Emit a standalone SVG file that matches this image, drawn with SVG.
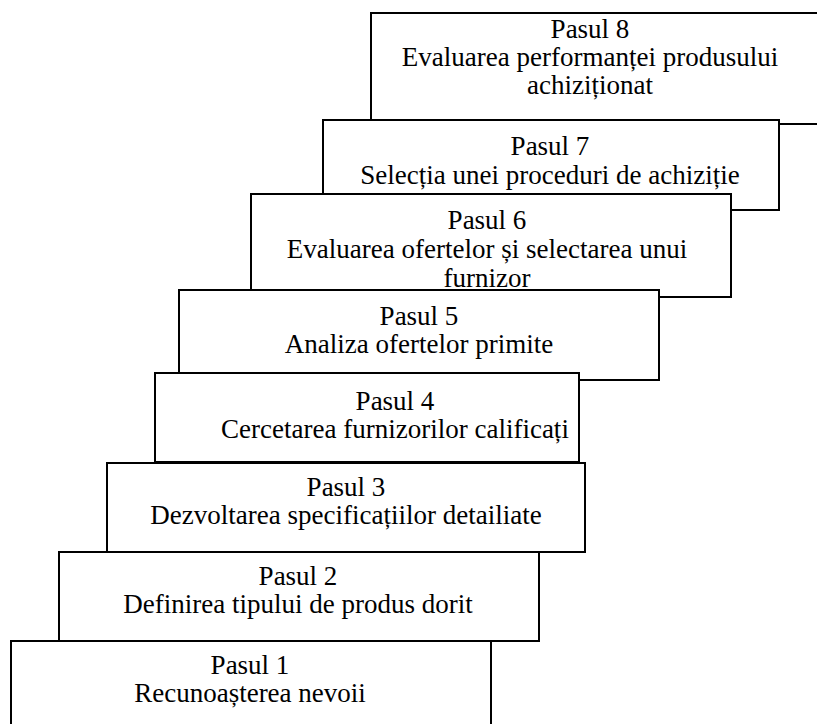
<svg xmlns="http://www.w3.org/2000/svg" width="817" height="724" viewBox="0 0 817 724">
<style>
rect.b{fill:#fff;stroke:#000;stroke-width:2}
text{font-family:"Liberation Serif","Times New Roman",serif;font-size:27px;fill:#000;text-anchor:middle}
</style>
<rect width="817" height="724" fill="#fff"/>
<g id="connectors"></g>
<g id="step8"><rect class="b" x="371" y="13" width="460" height="111"/>
<text x="590" y="38">Pasul 8</text><text x="590" y="66">Evaluarea performanței produsului</text><text x="590" y="94">achiziționat</text></g>
<g id="step7"><rect class="b" x="323" y="120" width="456" height="90"/>
<text x="550" y="155">Pasul 7</text><text x="550" y="184">Selecția unei proceduri de achiziție</text></g>
<g id="step6"><rect class="b" x="251" y="194" width="480" height="103"/>
<text x="487" y="229">Pasul 6</text><text x="487" y="258">Evaluarea ofertelor și selectarea unui</text><text x="487" y="287">furnizor</text></g>
<g id="step5"><rect class="b" x="179" y="290" width="480" height="90"/>
<text x="419" y="325">Pasul 5</text><text x="419" y="353">Analiza ofertelor primite</text></g>
<g id="step4"><rect class="b" x="155" y="373" width="424" height="89"/>
<text x="395" y="410">Pasul 4</text><text x="395" y="438">Cercetarea furnizorilor calificați</text></g>
<g id="step3"><rect class="b" x="107" y="463" width="478" height="89"/>
<text x="346" y="496">Pasul 3</text><text x="346" y="524">Dezvoltarea specificațiilor detailiate</text></g>
<g id="step2"><rect class="b" x="59" y="552" width="480" height="89"/>
<text x="298" y="585">Pasul 2</text><text x="298" y="613">Definirea tipului de produs dorit</text></g>
<g id="step1"><rect class="b" x="11" y="641" width="480" height="100"/>
<text x="250" y="674">Pasul 1</text><text x="250" y="702">Recunoașterea nevoii</text></g>
</svg>
